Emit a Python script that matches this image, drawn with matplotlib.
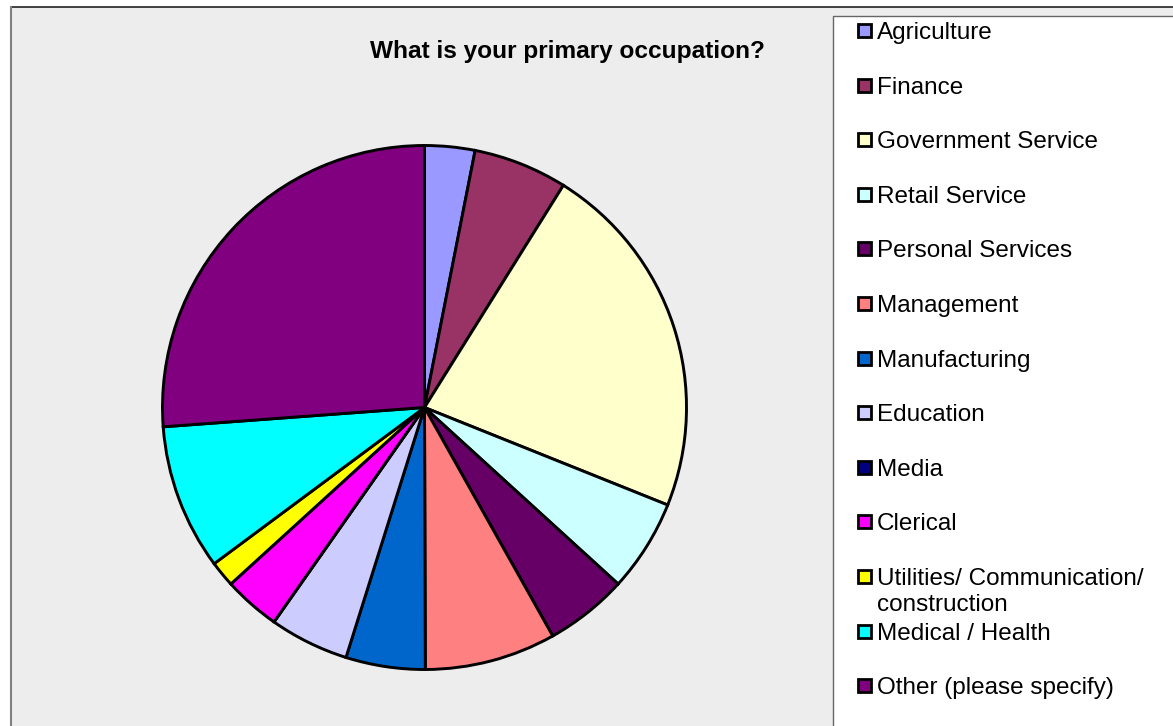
import textwrap
import matplotlib.pyplot as plt
from matplotlib.patches import Rectangle
from matplotlib.lines import Line2D

plt.rcParams['font.family'] = ['Liberation Sans', 'DejaVu Sans']

# --- data (share of respondents, %) ---
occupations = [
    "Agriculture", "Finance", "Government Service", "Retail Service",
    "Personal Services", "Management", "Manufacturing", "Education",
    "Media", "Clerical", "Utilities/ Communication/ construction",
    "Medical / Health", "Other (please specify)",
]
shares = [3.1, 5.8, 22.2, 5.7, 5.1, 8.1, 4.9, 4.9, 0.0, 3.5, 1.6, 9.0, 26.2]
colors = [
    "#9999FF", "#993366", "#FFFFCC", "#CCFFFF", "#660066", "#FF8080",
    "#0066CC", "#CCCCFF", "#000080", "#FF00FF", "#FFFF00", "#00FFFF",
    "#800080",
]
title = "What is your primary occupation?"

W, H = 1173, 726
fig = plt.figure(figsize=(W / 100, H / 100), dpi=100)
fig.patch.set_facecolor("white")


def fx(px):
    return px / W


def fy(py):
    # pixel from top -> figure fraction
    return 1 - py / H


# chart area background
fig.patches.append(Rectangle((fx(11), 0), 1, fy(7), transform=fig.transFigure,
                             facecolor="#EDEDED", edgecolor="none", zorder=-2))
fig.add_artist(Line2D([fx(11), 1], [fy(7), fy(7)], transform=fig.transFigure,
                      color="#222222", linewidth=1.2, zorder=-1))
fig.add_artist(Line2D([fx(11), fx(11)], [0, fy(7)], transform=fig.transFigure,
                      color="#808080", linewidth=1.5, zorder=-1))

# --- pie ---
cx, cy, r = 424.5, 407.5, 262
ax = fig.add_axes([fx(cx - r), fy(cy + r), 2 * r / W, 2 * r / H])
ax.set_zorder(2)
ax.pie(shares, colors=colors, startangle=90, counterclock=False,
       wedgeprops=dict(edgecolor="black", linewidth=2.1))
ax.set_xlim(-1, 1)
ax.set_ylim(-1, 1)
ax.axis("off")

fig.text(fx(567.5), fy(58), title, ha="center", va="baseline",
         fontsize=17.6, fontweight="bold", color="black")

# --- legend box ---
fig.patches.append(Rectangle((fx(833), -0.01), 1, fy(16) + 0.01,
                             transform=fig.transFigure, facecolor="white",
                             edgecolor="#666666", linewidth=1.0, zorder=1))
y0, step = 30.5, 54.6
for i, (lab, col) in enumerate(zip(occupations, colors)):
    yc = y0 + i * step
    fig.patches.append(Rectangle((fx(858), fy(yc + 6.5)), 13 / W, 13 / H,
                                 transform=fig.transFigure, facecolor=col,
                                 edgecolor="black", linewidth=2.0, zorder=3))
    for j, line in enumerate(textwrap.wrap(lab, 25)):
        fig.text(fx(877), fy(yc + 8.5 + 26 * j), line, ha="left",
                 va="baseline", fontsize=17.5, zorder=3)

plt.savefig("out.png", dpi=100)
plt.close()
